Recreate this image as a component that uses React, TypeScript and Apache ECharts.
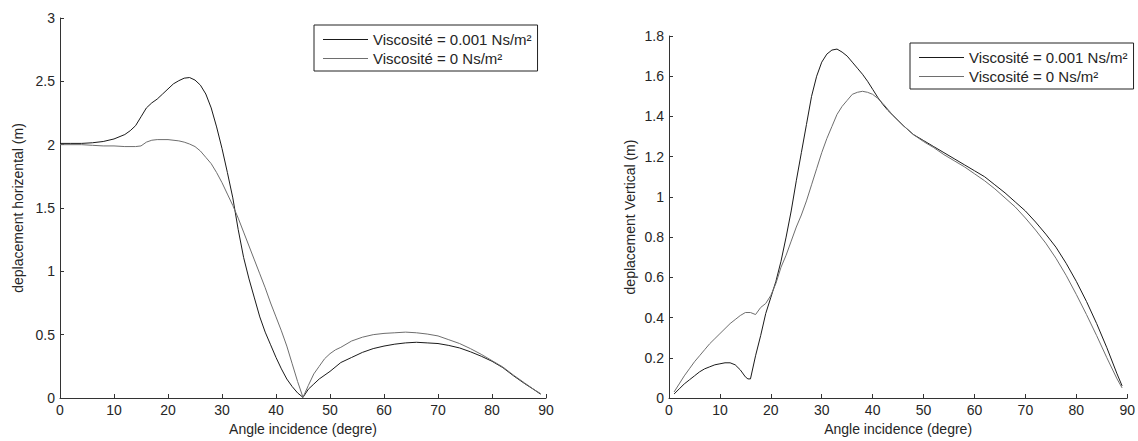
import React, { useEffect, useRef } from "react";
import * as echarts from "echarts";

const nameVisc = "Viscosité = 0.001 Ns/m²";
const nameZero = "Viscosité = 0 Ns/m²";

// Left plot: horizontal displacement
const hAnglesVisc = [0, 2, 4, 6, 8, 10, 12, 13, 14, 15, 16, 17, 18, 19, 20, 21, 22, 23, 24, 25, 26, 27, 28, 29, 30, 31, 32, 33, 34, 35, 36, 37, 38, 39, 40, 41, 42, 43, 44, 45, 46, 47, 48, 50, 52, 54, 56, 58, 60, 62, 64, 66, 68, 70, 72, 74, 76, 78, 80, 82, 84, 86, 88, 89];
const hVisc = [2.01, 2.01, 2.01, 2.015, 2.025, 2.045, 2.08, 2.11, 2.15, 2.22, 2.29, 2.33, 2.36, 2.4, 2.44, 2.48, 2.505, 2.525, 2.53, 2.51, 2.47, 2.4, 2.29, 2.14, 1.97, 1.78, 1.58, 1.33, 1.11, 0.94, 0.79, 0.64, 0.52, 0.42, 0.32, 0.23, 0.15, 0.09, 0.04, 0.005, 0.07, 0.11, 0.15, 0.21, 0.28, 0.32, 0.36, 0.39, 0.41, 0.425, 0.435, 0.44, 0.435, 0.43, 0.415, 0.395, 0.365, 0.33, 0.29, 0.24, 0.175, 0.115, 0.06, 0.03];

const hAnglesZero = [0, 4, 6, 8, 10, 12, 14, 15, 16, 17, 18, 20, 22, 23, 24, 25, 26, 27, 28, 29, 30, 31, 32, 33, 34, 35, 36, 37, 38, 39, 40, 41, 42, 43, 44, 45, 46, 47, 48, 49, 50, 51, 52, 54, 56, 58, 60, 62, 64, 66, 68, 70, 72, 74, 76, 78, 80, 82, 84, 86, 88, 89];
const hZero = [2.0, 2.0, 1.995, 1.99, 1.99, 1.985, 1.985, 1.99, 2.02, 2.035, 2.04, 2.04, 2.03, 2.02, 2.005, 1.985, 1.95, 1.9, 1.85, 1.78, 1.7, 1.61, 1.52, 1.42, 1.31, 1.2, 1.09, 0.98, 0.87, 0.75, 0.64, 0.53, 0.41, 0.27, 0.13, 0.005, 0.1, 0.19, 0.25, 0.31, 0.35, 0.38, 0.4, 0.45, 0.48, 0.5, 0.51, 0.515, 0.52, 0.515, 0.505, 0.49, 0.46, 0.43, 0.39, 0.345, 0.295, 0.245, 0.18, 0.12, 0.06, 0.035];

// Right plot: vertical displacement
const vAnglesVisc = [1, 2, 3, 4, 5, 6, 7, 8, 9, 10, 11, 12, 13, 14, 15, 15.5, 16, 17, 18, 19, 20, 21, 22, 23, 24, 25, 26, 27, 28, 29, 30, 31, 32, 33, 34, 35, 36, 37, 38, 39, 40, 41, 42, 43, 44, 45, 46, 48, 50, 52, 54, 56, 58, 60, 62, 64, 66, 68, 70, 72, 74, 76, 78, 80, 82, 84, 86, 88, 89];
const vVisc = [0.02, 0.045, 0.07, 0.09, 0.11, 0.13, 0.145, 0.155, 0.165, 0.17, 0.175, 0.175, 0.165, 0.14, 0.105, 0.095, 0.095, 0.21, 0.31, 0.42, 0.5, 0.58, 0.68, 0.8, 0.93, 1.08, 1.22, 1.36, 1.5, 1.6, 1.67, 1.71, 1.73, 1.735, 1.72, 1.7, 1.67, 1.64, 1.61, 1.575, 1.535, 1.495, 1.46, 1.43, 1.405, 1.38, 1.355, 1.31, 1.28, 1.25, 1.22, 1.19, 1.16, 1.13, 1.1, 1.06, 1.02, 0.975, 0.93, 0.875, 0.815, 0.75, 0.67, 0.58, 0.48, 0.37, 0.25, 0.12, 0.06];

const vAnglesZero = [1, 2, 3, 4, 5, 6, 7, 8, 9, 10, 11, 12, 13, 14, 15, 16, 17, 18, 19, 20, 21, 22, 23, 24, 25, 26, 27, 28, 29, 30, 31, 32, 33, 34, 35, 36, 37, 38, 39, 40, 41, 42, 43, 44, 45, 46, 48, 50, 52, 54, 56, 58, 60, 62, 64, 66, 68, 70, 72, 74, 76, 78, 80, 82, 84, 86, 88, 89];
const vZero = [0.03, 0.07, 0.11, 0.145, 0.18, 0.21, 0.24, 0.27, 0.295, 0.32, 0.345, 0.37, 0.39, 0.41, 0.425, 0.425, 0.415, 0.45, 0.47, 0.51, 0.57, 0.65, 0.71, 0.78, 0.85, 0.91, 0.98, 1.06, 1.14, 1.22, 1.29, 1.35, 1.41, 1.45, 1.48, 1.51, 1.52, 1.525, 1.52, 1.51, 1.49, 1.465, 1.435, 1.405, 1.38, 1.355, 1.31, 1.275, 1.245, 1.21, 1.18, 1.15, 1.115, 1.08, 1.04, 0.995, 0.95, 0.895, 0.835, 0.77, 0.695, 0.61, 0.515, 0.415, 0.31, 0.2, 0.095, 0.05];

const xTicks = { min: 0, max: 90, interval: 10 };
const hTicks = { min: 0, max: 3, interval: 0.5 };
const vTicks = { min: 0, max: 1.8, interval: 0.2 };

const FONT = "Liberation Sans, Arial, sans-serif";
const TXT = "#262626";
const AX = "#333";

const pairs = (xs: number[], ys: number[]) => xs.map((x, i) => [x, ys[i]]);

function xAxisCfg(gridIndex: number) {
  return {
    type: "value",
    gridIndex,
    ...xTicks,
    name: "Angle incidence (degre)",
    nameLocation: "middle",
    nameGap: 24,
    nameTextStyle: { fontFamily: FONT, fontSize: 14, color: TXT },
    axisLine: { show: true, onZero: false, lineStyle: { color: AX, width: 1 } },
    axisTick: { show: true, inside: true, length: 4, lineStyle: { color: AX } },
    axisLabel: { fontFamily: FONT, fontSize: 14, color: TXT, margin: 5 },
    splitLine: { show: false },
  };
}

function yAxisCfg(gridIndex: number, ticks: any, name: string, gap: number) {
  return {
    type: "value",
    gridIndex,
    ...ticks,
    name,
    nameLocation: "middle",
    nameGap: gap,
    nameTextStyle: { fontFamily: FONT, fontSize: 14, color: TXT },
    axisLine: { show: true, onZero: false, lineStyle: { color: AX, width: 1 } },
    axisTick: { show: true, inside: true, length: 4, lineStyle: { color: AX } },
    axisLabel: {
      fontFamily: FONT,
      fontSize: 14,
      color: TXT,
      margin: 5,
      formatter: (v: number) => String(+v.toFixed(2)),
    },
    splitLine: { show: false },
  };
}

function legendCfg(left: number, top: number) {
  return {
    left,
    top,
    orient: "vertical",
    data: [nameVisc, nameZero],
    icon: "rect",
    backgroundColor: "#fff",
    borderColor: "#222",
    borderWidth: 1,
    borderRadius: 0,
    padding: [6, 6, 4, 9],
    itemWidth: 45,
    itemHeight: 1,
    itemGap: 2,
    selectedMode: false,
    textStyle: { fontFamily: FONT, fontSize: 15, color: TXT, lineHeight: 17 },
  };
}

function lineSeries(name: string, data: number[][], idx: number, color: string) {
  return {
    type: "line",
    name,
    xAxisIndex: idx,
    yAxisIndex: idx,
    data,
    symbol: "none",
    showSymbol: false,
    smooth: false,
    lineStyle: { color, width: 1 },
    itemStyle: { color },
  };
}

const BLACK = "#1a1a1a";
const GRAY = "#6e6e6e";

export default function App() {
  const ref = useRef<HTMLDivElement>(null);
  useEffect(() => {
    if (!ref.current) return;
    const chart = echarts.init(ref.current, undefined, { renderer: "svg" });
    chart.setOption({
      animation: false,
      backgroundColor: "#fff",
      grid: [
        { left: 60, top: 18, width: 486, height: 382, containLabel: false },
        { left: 669, top: 36, width: 459, height: 362, containLabel: false },
      ],
      xAxis: [xAxisCfg(0), xAxisCfg(1)],
      yAxis: [
        yAxisCfg(0, hTicks, "deplacement horizental (m)", 35),
        yAxisCfg(1, vTicks, "deplacement Vertical (m)", 32),
      ],
      legend: [legendCfg(314, 25), legendCfg(910, 43)],
      series: [
        lineSeries(nameVisc, pairs(hAnglesVisc, hVisc), 0, BLACK),
        lineSeries(nameZero, pairs(hAnglesZero, hZero), 0, GRAY),
        lineSeries(nameVisc, pairs(vAnglesVisc, vVisc), 1, BLACK),
        lineSeries(nameZero, pairs(vAnglesZero, vZero), 1, GRAY),
      ],
    });
    return () => chart.dispose();
  }, []);
  return (
    <div
      ref={ref}
      style={{ position: "fixed", left: 0, top: 0, width: 1138, height: 441, background: "#fff" }}
    />
  );
}
